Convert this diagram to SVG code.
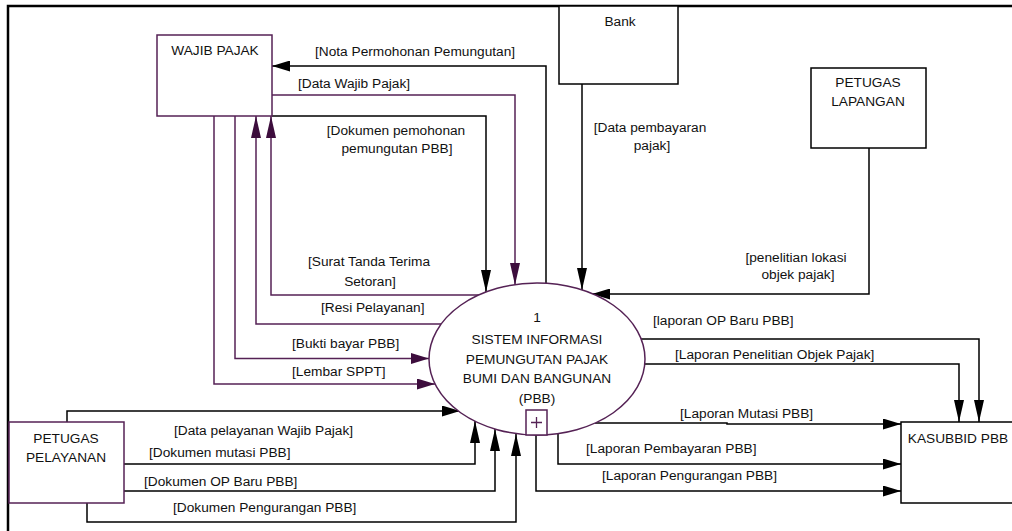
<svg xmlns="http://www.w3.org/2000/svg" width="1012" height="531" viewBox="0 0 1012 531">
  <style>
    .lbl { font-family: "Liberation Sans", Arial, sans-serif; font-size: 13.7px; fill: #111; }
    .mid { text-anchor: middle; }
    .box { fill: #fff; stroke: #000; stroke-width: 1.5; }
    .pbox { fill: #fff; stroke: #552255; stroke-width: 1.5; }
    .flow { fill: none; stroke: #000; stroke-width: 1.5; }
    .pflow { fill: none; stroke: #552255; stroke-width: 1.5; }
  </style>
  <defs>
    <!-- arrowheads: horizontal runs are shorter, vertical runs longer -->
    <marker id="ah" markerUnits="userSpaceOnUse" markerWidth="18" markerHeight="11" refX="18" refY="5.5" orient="auto">
      <path d="M0,0 L18,5.5 L0,11 z" fill="#000"/>
    </marker>
    <marker id="av" markerUnits="userSpaceOnUse" markerWidth="22" markerHeight="10" refX="22" refY="5" orient="auto">
      <path d="M0,0 L22,5 L0,10 z" fill="#000"/>
    </marker>
    <marker id="pah" markerUnits="userSpaceOnUse" markerWidth="18" markerHeight="11" refX="18" refY="5.5" orient="auto">
      <path d="M0,0 L18,5.5 L0,11 z" fill="#3d0d3d"/>
    </marker>
    <marker id="pav" markerUnits="userSpaceOnUse" markerWidth="22" markerHeight="10" refX="22" refY="5" orient="auto">
      <path d="M0,0 L22,5 L0,10 z" fill="#3d0d3d"/>
    </marker>
  </defs>

  <rect width="1012" height="531" fill="#fff"/>
  <!-- outer frame -->
  <rect x="8" y="6" width="1012" height="540" fill="none" stroke="#000" stroke-width="2.5"/>

  <!-- data flows -->
  <g id="connectors">
    <path class="flow" d="M546,283 V66 H272" marker-end="url(#ah)"/>
    <path class="pflow" d="M272,95 H515 V285" marker-end="url(#pav)"/>
    <path class="flow" d="M272,116 H486 V292" marker-end="url(#av)"/>
    <path class="flow" d="M582,84 V290" marker-end="url(#av)"/>
    <path class="flow" d="M869,148 V294 H592" marker-end="url(#ah)"/>
    <path class="flow" d="M640,339 H979 V422" marker-end="url(#av)"/>
    <path class="flow" d="M643,364 H959 V422" marker-end="url(#av)"/>
    <path class="flow" d="M595,423 H727 V424 H901" marker-end="url(#ah)"/>
    <path class="flow" d="M558,434 V464 H901" marker-end="url(#ah)"/>
    <path class="flow" d="M536,435 V491 H901" marker-end="url(#ah)"/>
    <path class="flow" d="M67,422 V411 H460" marker-end="url(#ah)"/>
    <path class="flow" d="M124,464 H475 V421" marker-end="url(#av)"/>
    <path class="flow" d="M124,491 H495 V429" marker-end="url(#av)"/>
    <path class="flow" d="M87,503 V522 H516 V434" marker-end="url(#av)"/>
    <path class="pflow" d="M479,295 H271 V116" marker-end="url(#pav)"/>
    <path class="pflow" d="M441,324 H256 V116" marker-end="url(#pav)"/>
    <path class="pflow" d="M235,116 V358.5 H429" marker-end="url(#pah)"/>
    <path class="pflow" d="M214,116 V384 H435" marker-end="url(#pah)"/>

    <!-- flow labels -->
    <text class="lbl" x="315" y="56">[Nota Permohonan Pemungutan]</text>
    <text class="lbl" x="298" y="88">[Data Wajib Pajak]</text>
    <text class="lbl mid" x="396" y="135">[Dokumen pemohonan</text>
    <text class="lbl mid" x="397" y="153">pemungutan PBB]</text>
    <text class="lbl mid" x="650" y="132">[Data pembayaran</text>
    <text class="lbl mid" x="652" y="150">pajak]</text>
    <text class="lbl mid" x="796" y="262">[penelitian lokasi</text>
    <text class="lbl mid" x="798" y="279">objek pajak]</text>
    <text class="lbl mid" x="369" y="266">[Surat Tanda Terima</text>
    <text class="lbl mid" x="370" y="286">Setoran]</text>
    <text class="lbl" x="321" y="312">[Resi Pelayanan]</text>
    <text class="lbl" x="292" y="348">[Bukti bayar PBB]</text>
    <text class="lbl" x="292" y="376">[Lembar SPPT]</text>
    <text class="lbl" x="174" y="435">[Data pelayanan Wajib Pajak]</text>
    <text class="lbl" x="149" y="457">[Dokumen mutasi PBB]</text>
    <text class="lbl" x="144" y="486">[Dokumen OP Baru PBB]</text>
    <text class="lbl" x="173" y="512">[Dokumen Pengurangan PBB]</text>
    <text class="lbl" x="653" y="325">[laporan OP Baru PBB]</text>
    <text class="lbl" x="675" y="359">[Laporan Penelitian Objek Pajak]</text>
    <text class="lbl" x="680" y="418">[Laporan Mutasi PBB]</text>
    <text class="lbl" x="586" y="453">[Laporan Pembayaran PBB]</text>
    <text class="lbl" x="602" y="480">[Laporan Pengurangan PBB]</text>
  </g>

  <!-- external entities -->
  <g id="wajib-pajak">
    <rect class="pbox" x="157" y="35" width="115" height="81"/>
    <text class="lbl mid" x="215" y="55">WAJIB PAJAK</text>
  </g>
  <g id="bank">
    <rect class="box" x="559" y="6" width="119" height="78"/>
    <text class="lbl mid" x="620" y="26">Bank</text>
  </g>
  <g id="petugas-lapangan">
    <rect class="box" x="811" y="68" width="115" height="80"/>
    <text class="lbl mid" x="868" y="87">PETUGAS</text>
    <text class="lbl mid" x="868" y="106">LAPANGAN</text>
  </g>
  <g id="petugas-pelayanan">
    <rect class="pbox" x="9" y="422" width="115" height="81"/>
    <text class="lbl mid" x="66" y="443">PETUGAS</text>
    <text class="lbl mid" x="66" y="462">PELAYANAN</text>
  </g>
  <g id="kasubbid-pbb">
    <rect class="box" x="901" y="422" width="130" height="81"/>
    <text class="lbl mid" x="958" y="443">KASUBBID PBB</text>
  </g>

  <!-- process 1 -->
  <g id="process-1">
    <ellipse cx="537" cy="359" rx="108" ry="76" fill="#fff" stroke="#552255" stroke-width="1.5"/>
    <text class="lbl mid" x="537" y="322">1</text>
    <text class="lbl mid" x="537" y="344">SISTEM INFORMASI</text>
    <text class="lbl mid" x="537" y="364">PEMUNGUTAN PAJAK</text>
    <text class="lbl mid" x="537" y="383">BUMI DAN BANGUNAN</text>
    <text class="lbl mid" x="537" y="403">(PBB)</text>
    <rect class="pbox" x="526" y="410" width="21" height="25"/>
    <path d="M531,422.5 H542 M536.5,417 V428" stroke="#552255" stroke-width="1.3" fill="none"/>
  </g>
</svg>
